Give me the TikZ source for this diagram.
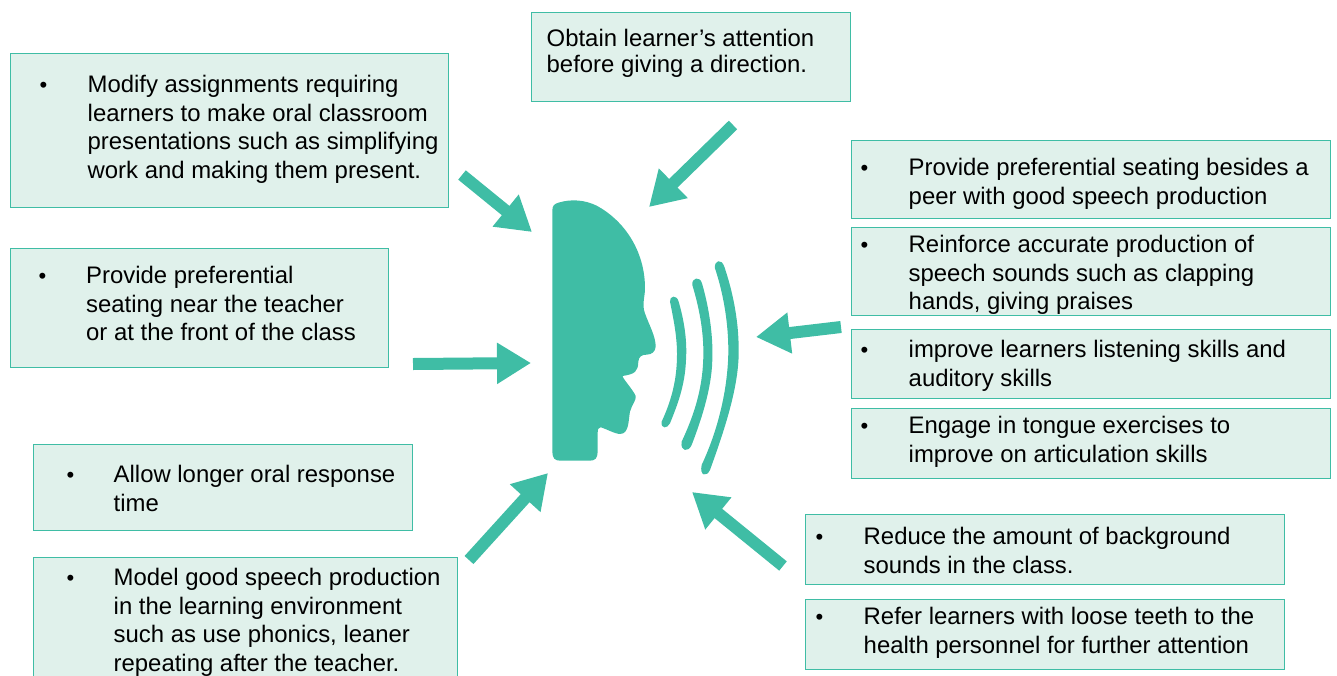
\documentclass[tikz,border=0pt]{standalone}
\usepackage{fontspec}
\setmainfont{Liberation Sans}
\usetikzlibrary{arrows.meta}
\definecolor{tealmain}{HTML}{3FBDA5}
\definecolor{tealpale}{HTML}{E0F1EB}
\tikzset{
  tipbox/.style={draw=tealmain, fill=tealpale, line width=1.5pt, inner sep=0pt, anchor=north west},
  tiptext/.style={anchor=north west, inner sep=0pt, align=left, font=\fontsize{23.9}{28.6}\selectfont\strut},
  tipdot/.style={anchor=north, inner sep=0pt, font=\fontsize{22}{28.6}\selectfont\strut},
  bigarrow/.style={draw=tealmain, line width=12pt, -{Triangle[length=34pt,width=39pt]}}
}
\begin{document}
\begin{tikzpicture}[x=1pt,y=-1pt]
  \useasboundingbox (0,0) rectangle (1337,675);

  % boxes
  \node[tipbox, minimum width=319pt, minimum height=89pt] (attention) at (530.5,11.5) {};
  \node[tipbox, minimum width=438pt, minimum height=154pt] (assign) at (9.5,52.5) {};
  \node[tipbox, minimum width=378pt, minimum height=119pt] (front) at (9.5,247.5) {};
  \node[tipbox, minimum width=379pt, minimum height=86pt] (longer) at (32.5,443.5) {};
  \node[tipbox, minimum width=424pt, minimum height=140pt] (model) at (32.5,556.5) {};
  \node[tipbox, minimum width=479pt, minimum height=78pt] (peer) at (850.5,139.5) {};
  \node[tipbox, minimum width=479pt, minimum height=88pt] (praise) at (850.5,226.5) {};
  \node[tipbox, minimum width=479pt, minimum height=69pt] (listen) at (850.5,328.5) {};
  \node[tipbox, minimum width=479pt, minimum height=70pt] (tongue) at (850.5,407.5) {};
  \node[tipbox, minimum width=479pt, minimum height=70pt] (noise) at (804.5,513.5) {};
  \node[tipbox, minimum width=479pt, minimum height=70pt] (teeth) at (804.5,598.5) {};

  % texts
  \node[anchor=north west, inner sep=0pt, align=left, font=\fontsize{23.9}{26}\selectfont\strut] (attentiontext) at (546.5,29) {Obtain learner’s attention\\before giving a direction.};
  \node[tiptext] (assigntext) at (87.5,75) {Modify assignments requiring\\learners to make oral classroom\\presentations such as simplifying\\work and making them present.};
  \node[tiptext] (fronttext) at (86,266) {Provide preferential\\seating near the teacher\\or at the front of the class};
  \node[tiptext] (longertext) at (113.5,465) {Allow longer oral response\\time};
  \node[tiptext] (modeltext) at (113.5,568) {Model good speech production\\in the learning environment\\such as use phonics, leaner\\repeating after the teacher.};
  \node[tiptext] (peertext) at (908.5,158) {Provide preferential seating besides a\\peer with good speech production};
  \node[tiptext] (praisetext) at (908.5,235) {Reinforce accurate production of\\speech sounds such as clapping\\hands, giving praises};
  \node[tiptext] (listentext) at (908.5,340) {improve learners listening skills and\\auditory skills};
  \node[tiptext] (tonguetext) at (908.5,416) {Engage in tongue exercises to\\improve on articulation skills};
  \node[tiptext] (noisetext) at (863.5,527) {Reduce the amount of background\\sounds in the class.};
  \node[tiptext] (teethtext) at (863.5,607) {Refer learners with loose teeth to the\\health personnel for further attention};

  % bullets
  \node[tipdot] (assigndot) at (43.5,72.5) {•};
  \node[tipdot] (frontdot) at (42.5,263.5) {•};
  \node[tipdot] (longerdot) at (70.5,462.5) {•};
  \node[tipdot] (modeldot) at (70.5,565.5) {•};
  \node[tipdot] (peerdot) at (864.5,155.5) {•};
  \node[tipdot] (praisedot) at (864.5,232.5) {•};
  \node[tipdot] (listendot) at (864.5,337.5) {•};
  \node[tipdot] (tonguedot) at (864.5,413.5) {•};
  \node[tipdot] (noisedot) at (819.5,524.5) {•};
  \node[tipdot] (teethdot) at (819.5,604.5) {•};

  % arrows
  \coordinate (a1s) at (733,125);
  \coordinate (a1e) at (649,207);
  \coordinate (a2s) at (462,175);
  \coordinate (a2e) at (532,232);
  \coordinate (a3s) at (413,364);
  \coordinate (a3e) at (531,363);
  \coordinate (a4s) at (469,560);
  \coordinate (a4e) at (548,473);
  \coordinate (a5s) at (841,327);
  \coordinate (a5e) at (756,337);
  \coordinate (a6s) at (783,566);
  \coordinate (a6e) at (692,492);
  \draw[bigarrow] (a1s) -- (a1e);
  \draw[bigarrow] (a2s) -- (a2e);
  \draw[bigarrow] (a3s) -- (a3e);
  \draw[bigarrow] (a4s) -- (a4e);
  \draw[bigarrow] (a5s) -- (a5e);
  \draw[bigarrow] (a6s) -- (a6e);

  % head and sound waves
  \begin{scope}[shift={(530,190)}, x=0.3333pt, y=-0.3333pt]
    \fill[tealmain] (67,62) .. controls (67,48) and (72,42) .. (85,38)
      .. controls (125,26) and (165,30) .. (200,47)
      .. controls (280,90) and (345,180) .. (345,295)
      .. controls (345,320) and (335,345) .. (345,370)
      .. controls (355,400) and (378,440) .. (377,470)
      .. controls (376,485) and (365,494) .. (350,494)
      .. controls (335,494) and (326,500) .. (325,515)
      .. controls (324,545) and (315,552) .. (278,558)
      .. controls (275,562) and (310,600) .. (317,618)
      .. controls (320,630) and (305,645) .. (300,665)
      .. controls (295,690) and (298,732) .. (270,732)
      .. controls (255,732) and (225,715) .. (212,712)
      .. controls (205,712) and (203,718) .. (203,730)
      -- (203,785) .. controls (203,805) and (195,812) .. (180,812)
      -- (90,812) .. controls (75,812) and (67,805) .. (67,785) -- cycle;
    \fill[tealmain] (420,335) .. controls (418,318) and (440,312) .. (446,335)
      .. controls (462,390) and (472,450) .. (468,510)
      .. controls (465,590) and (440,650) .. (420,700)
      .. controls (412,716) and (392,718) .. (395,695)
      .. controls (425,630) and (440,570) .. (441,500)
      .. controls (442,440) and (430,385) .. (420,335) -- cycle;
    \fill[tealmain] (487,285) .. controls (485,262) and (510,258) .. (516,280)
      .. controls (535,345) and (550,430) .. (547,510)
      .. controls (545,600) and (510,700) .. (485,765)
      .. controls (475,788) and (450,785) .. (455,755)
      .. controls (490,680) and (518,600) .. (520,500)
      .. controls (522,420) and (505,345) .. (487,285) -- cycle;
    \fill[tealmain] (555,235) .. controls (552,210) and (575,205) .. (583,230)
      .. controls (610,310) and (628,400) .. (626,495)
      .. controls (624,600) and (580,730) .. (540,840)
      .. controls (530,862) and (508,858) .. (515,825)
      .. controls (555,740) and (592,620) .. (595,490)
      .. controls (596,400) and (580,310) .. (555,235) -- cycle;
  \end{scope}
\end{tikzpicture}
\end{document}
